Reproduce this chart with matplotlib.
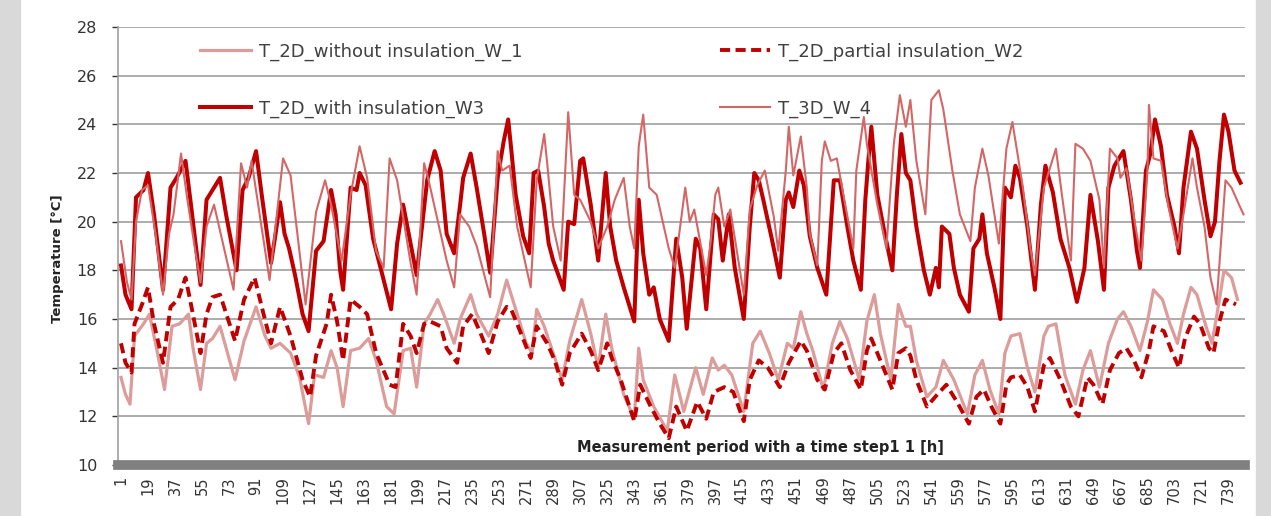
import matplotlib
matplotlib.use("Agg")
import matplotlib.pyplot as plt
from matplotlib.patches import Rectangle

# hourly temperatures, sampled at the turning points of each daily cycle
w1_hours = [1, 4, 7, 10, 16, 20, 25, 30, 35, 40, 46, 49, 54, 58, 62, 67, 77, 83, 91, 97,
            101, 107, 114, 120, 126, 130, 136, 141, 145, 149, 154, 160, 166, 171, 178, 183,
            189, 194, 198, 203, 207, 212, 216, 223, 227, 234, 238, 246, 252, 258, 261, 265,
            271, 275, 278, 283, 289, 295, 300, 308, 314, 319, 324, 328, 336, 343, 346, 349,
            356, 365, 370, 376, 384, 389, 395, 399, 403, 408, 416, 422, 427, 433, 439, 445,
            449, 454, 458, 462, 469, 475, 480, 485, 493, 498, 503, 507, 514, 519, 524, 527,
            531, 538, 544, 549, 556, 565, 570, 575, 580, 586, 590, 594, 600, 605, 610, 616,
            619, 624, 630, 637, 642, 647, 653, 659, 665, 669, 674, 680, 685, 689, 695, 700,
            705, 709, 714, 718, 724, 728, 733, 736, 741, 745]
w1_temp = [13.6, 12.9, 12.5, 15.3, 15.8, 16.2, 14.7, 13.1, 15.7, 15.8, 16.2, 14.8, 13.1, 15.0,
           15.2, 15.7, 13.5, 15.1, 16.5, 15.3, 14.8, 15.0, 14.6, 13.6, 11.7, 13.7, 13.6, 14.7,
           14.0, 12.4, 14.7, 14.8, 15.2, 14.3, 12.4, 12.1, 14.7, 14.8, 13.2, 15.8, 16.2, 16.8,
           16.2, 15.0, 16.0, 17.0, 16.2, 15.3, 16.2, 17.6, 17.0, 16.2, 15.0, 14.6, 16.4, 15.7,
           14.6, 13.5, 15.1, 16.8, 15.4, 14.0, 16.2, 14.8, 12.9, 11.9, 14.8, 13.5, 12.4, 11.4,
           13.7, 12.2, 14.0, 12.9, 14.4, 13.9, 14.1, 13.7, 12.2, 15.0, 15.5, 14.6, 13.5, 15.0,
           14.8, 16.3, 15.4, 14.7, 13.1, 15.0, 15.9, 15.2, 13.5, 15.9, 17.0, 15.4, 13.5, 16.6,
           15.7, 15.7, 14.3, 12.8, 13.2, 14.3, 13.5, 12.1, 13.7, 14.3, 13.1, 12.1, 14.6, 15.3,
           15.4, 14.0, 13.0, 15.3, 15.7, 15.8, 13.7, 12.5, 13.9, 14.7, 13.2, 15.0, 16.0, 16.3,
           15.7, 14.7, 15.9, 17.2, 16.8, 15.8, 15.0, 16.2, 17.3, 17.0, 15.7, 15.0, 16.8, 18.0,
           17.7, 16.8]

w2_hours = [1, 4, 8, 10, 15, 19, 23, 29, 34, 39, 44, 47, 54, 58, 62, 67, 77, 83, 90, 96,
            101, 107, 114, 122, 127, 131, 138, 141, 145, 149, 154, 160, 165, 171, 180, 184,
            189, 194, 198, 203, 207, 214, 218, 225, 229, 235, 240, 246, 252, 258, 261, 265,
            274, 278, 285, 290, 295, 300, 308, 314, 319, 325, 328, 334, 343, 347, 354, 360,
            366, 371, 378, 385, 391, 396, 403, 409, 416, 420, 426, 432, 440, 446, 454, 458,
            465, 470, 476, 481, 487, 494, 498, 501, 507, 515, 519, 524, 527, 531, 538, 545,
            551, 558, 566, 571, 576, 581, 587, 591, 594, 600, 605, 610, 616, 620, 627, 634,
            639, 645, 649, 655, 660, 666, 671, 676, 681, 686, 689, 696, 701, 706, 710, 716,
            720, 726, 729, 733, 737, 744]
w2_temp = [15.0, 14.2, 13.8, 15.8, 16.6, 17.3, 15.8, 14.2, 16.5, 16.8, 17.7, 16.8, 14.6, 16.2,
           16.9, 17.0, 15.1, 16.8, 17.7, 16.2, 15.0, 16.5, 15.3, 13.5, 12.8, 14.5, 15.8, 17.0,
           15.9, 14.3, 16.8, 16.5, 16.2, 14.6, 13.3, 13.2, 15.8, 15.3, 14.6, 15.8, 15.9, 15.7,
           14.8, 14.2, 15.7, 16.2, 15.5, 14.6, 15.9, 16.5, 16.4, 15.8, 14.4, 15.7, 15.0, 14.3,
           13.3, 14.6, 15.4, 14.7, 13.9, 15.0, 14.4, 13.5, 11.8, 13.3, 12.4, 11.7, 11.1, 12.4,
           11.4, 12.6, 11.9, 13.0, 13.2, 13.0, 11.8, 13.5, 14.3, 14.0, 13.2, 14.2, 15.1, 14.7,
           13.5, 13.1, 14.6, 15.0, 13.9, 13.1, 14.7, 15.2, 14.3, 13.1, 14.6, 14.8, 14.5, 13.5,
           12.4, 12.9, 13.3, 12.6, 11.7, 12.8, 13.1, 12.4, 11.7, 13.3, 13.6, 13.7, 13.2, 12.2,
           14.1, 14.4, 13.5, 12.4, 12.0, 13.6, 13.3, 12.5, 13.9, 14.6, 14.8, 14.3, 13.6, 14.7,
           15.7, 15.5, 14.7, 14.0, 15.2, 16.1, 15.8, 14.8, 14.6, 15.9, 16.8, 16.6]

w3_hours = [1, 4, 8, 11, 16, 19, 23, 29, 34, 38, 44, 48, 54, 58, 62, 67, 71, 78, 82, 86,
            91, 95, 101, 104, 107, 110, 113, 117, 122, 126, 131, 136, 141, 144, 147, 149,
            154, 158, 160, 164, 169, 176, 181, 185, 189, 194, 198, 205, 210, 214, 218, 223,
            227, 229, 234, 238, 243, 247, 252, 256, 259, 261, 264, 269, 273, 276, 279, 283,
            286, 289, 296, 299, 303, 307, 309, 314, 319, 324, 327, 331, 336, 343, 346, 349,
            353, 356, 360, 366, 371, 375, 378, 384, 387, 391, 396, 399, 402, 406, 410, 416,
            420, 423, 426, 429, 435, 440, 444, 446, 449, 453, 456, 460, 465, 471, 476, 480,
            485, 489, 494, 497, 499, 501, 505, 509, 515, 518, 521, 524, 527, 531, 536, 540,
            544, 546, 548, 553, 556, 560, 566, 569, 573, 575, 578, 583, 587, 590, 594, 597,
            600, 605, 610, 614, 617, 622, 627, 633, 638, 643, 647, 652, 656, 659, 663, 669,
            674, 678, 680, 684, 687, 690, 694, 698, 703, 706, 709, 714, 718, 723, 727, 730,
            733, 736, 739, 743, 747]
w3_temp = [18.2, 17.0, 16.4, 21.0, 21.3, 22.0, 20.3, 17.2, 21.4, 21.8, 22.5, 20.5, 17.4, 20.9,
           21.3, 21.8, 20.3, 18.0, 21.3, 21.8, 22.9, 21.0, 18.3, 19.5, 20.8, 19.5, 18.9, 17.8,
           16.2, 15.5, 18.8, 19.2, 21.3, 20.3, 18.0, 17.2, 21.4, 21.3, 22.0, 21.5, 19.3, 17.6,
           16.4, 19.1, 20.7, 19.1, 17.8, 21.7, 22.9, 22.1, 19.5, 18.7, 20.7, 21.8, 22.8, 21.4,
           19.5, 17.9, 21.8, 23.3, 24.2, 23.0, 21.1, 19.4, 18.7, 22.0, 22.1, 20.6, 19.1, 18.4,
           17.2, 20.0, 19.9, 22.5, 22.6, 20.7, 18.4, 22.0, 19.8, 18.4, 17.3, 15.9, 20.9, 18.7,
           17.0, 17.3, 16.0, 15.1, 19.3, 17.7, 15.6, 19.3, 18.9, 16.4, 20.3, 20.1, 18.4, 20.3,
           18.1, 16.0, 19.8, 22.0, 21.7, 20.9, 19.2, 17.7, 20.9, 21.2, 20.6, 22.1, 21.5, 19.4,
           18.1, 17.0, 21.7, 21.7, 19.8, 18.4, 17.2, 20.9, 22.5, 23.9, 21.1, 19.8, 18.0, 21.1,
           23.6, 22.0, 21.7, 19.8, 18.0, 17.0, 18.1, 17.3, 19.8, 19.5, 18.1, 17.0, 16.3, 18.9,
           19.3, 20.3, 18.7, 17.3, 16.0, 21.4, 21.0, 22.3, 21.8, 19.8, 17.2, 20.7, 22.3, 21.2,
           19.3, 18.1, 16.7, 18.1, 21.1, 19.2, 17.2, 21.4, 22.3, 22.9, 20.9, 18.8, 18.1, 22.1,
           22.8, 24.2, 23.1, 21.1, 19.8, 18.7, 21.4, 23.7, 23.0, 20.9, 19.4, 20.0, 22.5, 24.4,
           23.7, 22.1, 21.6]

w4_hours = [1, 5, 8, 11, 15, 19, 24, 29, 33, 36, 41, 45, 50, 54, 58, 63, 76, 81, 85, 88,
            100, 109, 114, 124, 131, 137, 141, 148, 154, 160, 165, 171, 176, 180, 185, 194,
            198, 203, 206, 210, 218, 223, 227, 233, 238, 247, 252, 255, 260, 265, 274, 278,
            283, 285, 289, 294, 299, 303, 307, 314, 319, 325, 330, 336, 340, 343, 346, 349,
            353, 358, 366, 370, 377, 380, 383, 391, 394, 397, 399, 403, 407, 416, 420, 425,
            430, 436, 439, 444, 446, 449, 454, 458, 460, 465, 468, 470, 474, 478, 483, 489,
            491, 496, 498, 505, 511, 516, 520, 524, 527, 531, 537, 541, 546, 549, 555, 560,
            567, 570, 575, 579, 586, 591, 595, 602, 607, 610, 616, 624, 628, 634, 637, 642,
            647, 653, 656, 660, 665, 667, 671, 677, 681, 685, 686, 689, 694, 699, 705, 709,
            715, 718, 723, 727, 731, 737, 741, 746, 749]
w4_temp = [19.2, 17.5, 16.8, 20.0, 21.3, 21.5, 19.5, 17.0, 19.5, 20.3, 22.8, 21.0, 19.0, 17.5,
           19.8, 20.7, 17.2, 22.4, 21.4, 22.5, 17.6, 22.6, 21.9, 16.6, 20.4, 21.7, 20.7, 18.4,
           21.1, 23.1, 21.8, 18.8, 18.1, 22.6, 21.7, 18.3, 17.0, 22.4, 21.7, 20.6, 18.4, 17.3,
           20.3, 19.8, 19.0, 16.9, 22.9, 22.1, 22.3, 19.8, 17.3, 21.7, 23.6, 22.4, 19.8, 18.4,
           24.5, 21.1, 20.9, 20.0, 18.9, 19.8, 20.9, 21.8, 19.8, 18.9, 23.1, 24.4, 21.4, 21.1,
           18.9, 18.1, 21.4, 20.0, 20.5, 17.8, 19.2, 21.1, 21.4, 19.8, 20.5, 17.0, 20.5, 21.5,
           22.1, 20.2, 18.8, 22.1, 23.9, 21.9, 23.5, 21.4, 19.5, 18.2, 22.5, 23.3, 22.5, 22.6,
           20.9, 18.9, 22.1, 24.3, 23.2, 20.7, 18.9, 23.2, 25.2, 23.9, 25.0, 22.5, 20.3, 25.0,
           25.4, 24.6, 22.1, 20.3, 19.2, 21.4, 23.0, 21.9, 19.1, 23.0, 24.1, 21.4, 18.9, 17.8,
           21.4, 23.0, 21.1, 18.4, 23.2, 23.0, 22.5, 20.9, 18.1, 23.0, 22.6, 21.8, 22.2, 19.8,
           18.4, 22.1, 24.8, 22.6, 22.5, 20.6, 18.9, 20.3, 22.6, 21.4, 19.8, 17.7, 16.6, 21.7,
           21.4, 20.7, 20.3]

labels = ["T_2D_without insulation_W_1", "T_2D_partial insulation_W2",
          "T_2D_with insulation_W3", "T_3D_W_4"]
x_ticks = list(range(1, 740, 18))
y_ticks = list(range(10, 29, 2))

plt.rcParams['font.family'] = ['DejaVu Sans']

fig = plt.figure(figsize=(12.71, 5.16), dpi=100)
fig.patches.append(Rectangle((0, 0), 20 / 1271, 1, transform=fig.transFigure,
                             color='#d9d9d9', zorder=-5))
fig.patches.append(Rectangle((1256 / 1271, 0), 15 / 1271, 1, transform=fig.transFigure,
                             color='#d9d9d9', zorder=-5))

ax = fig.add_axes([118 / 1271, 51 / 516, 1127 / 1271, 438 / 516])

l1, = ax.plot(w1_hours, w1_temp, color='#dc9c9a', lw=2.3, zorder=3)
l2, = ax.plot(w2_hours, w2_temp, color='#c00000', lw=2.8, ls=(0, (2.6, 1.4)), zorder=4)
l3, = ax.plot(w3_hours, w3_temp, color='#c00000', lw=2.9, zorder=5)
l4, = ax.plot(w4_hours, w4_temp, color='#d46666', lw=1.5, zorder=6)

ax.set_xlim(-1, 750)
ax.set_ylim(10, 28)
ax.set_yticks(y_ticks)
ax.set_xticks(x_ticks)
ax.set_xticklabels([str(t) for t in x_ticks], rotation=90, fontsize=10.5, color='#333333')
ax.tick_params(axis='x', length=0, pad=8)
ax.tick_params(axis='y', labelsize=11.5, colors='#333333', length=4, width=1, pad=11)

ax.grid(axis='y', color='#a6a6a6', lw=1.3, zorder=0)
ax.set_axisbelow(True)
for side in ('top', 'right'):
    ax.spines[side].set_visible(False)
ax.spines['left'].set_color('#a0a0a0')
ax.spines['left'].set_linewidth(1.2)
ax.spines['bottom'].set_color('#808080')
ax.spines['bottom'].set_linewidth(7)
ax.spines['bottom'].set_zorder(7)

ax.set_ylabel('Temperature [°C]', fontsize=9.5, fontweight='bold', color='#222222')
ax.yaxis.set_label_coords(-0.048, 0.47)
ax.text(427, 10.72, 'Measurement period with a time step1 1 [h]', ha='center', va='center',
        fontsize=10.5, fontweight='bold', color='#222222')

leg_kw = dict(loc='upper left', frameon=False, fontsize=13, handlelength=2.8,
              handletextpad=0.45, labelspacing=2.15, borderaxespad=0, borderpad=0,
              labelcolor='#404040')
leg1 = ax.legend([l1, l3], [labels[0], labels[2]], bbox_to_anchor=(0.0728, 0.965), **leg_kw)
ax.add_artist(leg1)
ax.legend([l2, l4], [labels[1], labels[3]], bbox_to_anchor=(0.534, 0.965), **leg_kw)

fig.savefig('out.png', dpi=100)
